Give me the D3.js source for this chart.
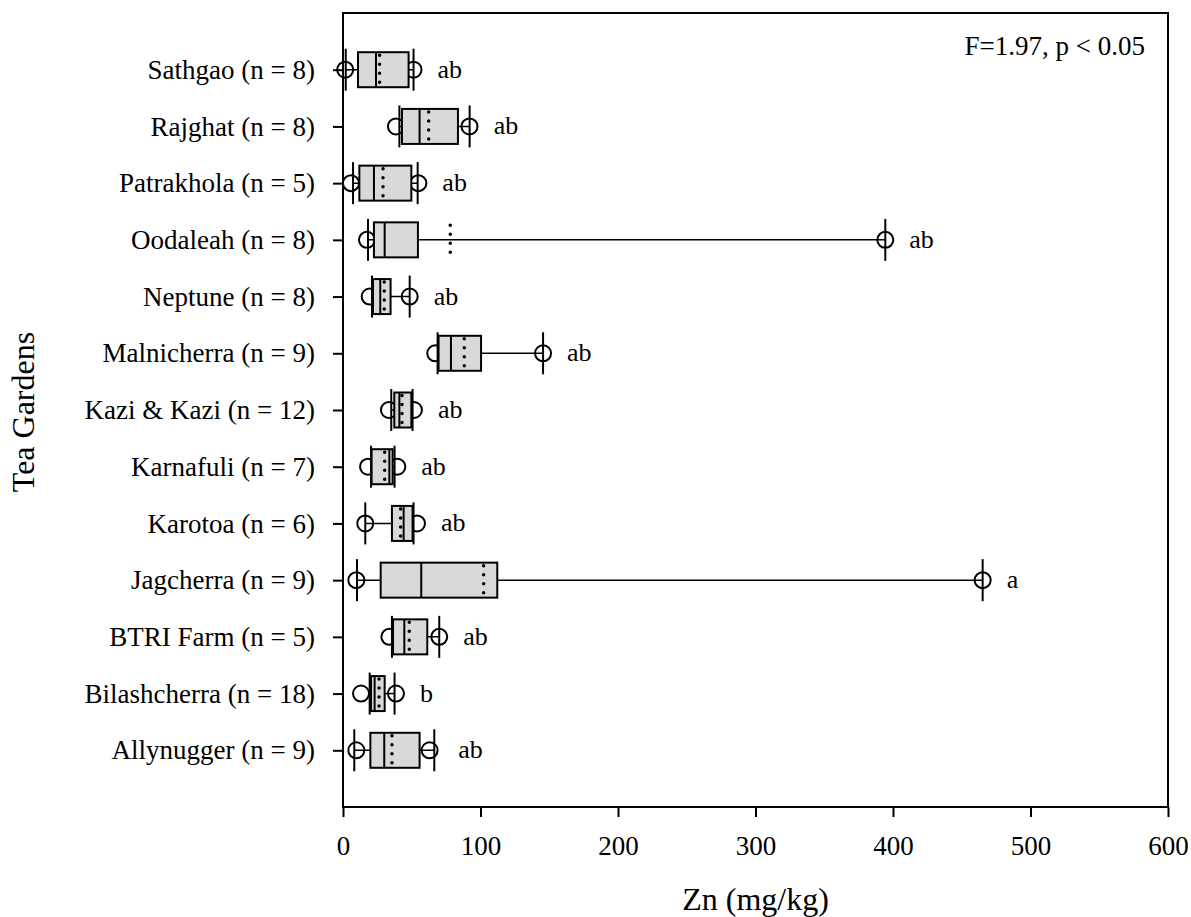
<!DOCTYPE html>
<html>
<head>
<meta charset="utf-8">
<script src="https://cdn.jsdelivr.net/npm/d3@7"></script>
<style>
  body { margin: 0; background: #fff; }
  svg text { font-family: "Liberation Serif", "Times New Roman", serif; fill: #000; }
</style>
</head>
<body>
<div class="svg"></div>
<script>
// data (Zn, mg/kg)
const gardens = ["Sathgao (n = 8)", "Rajghat (n = 8)", "Patrakhola (n = 5)", "Oodaleah (n = 8)",
  "Neptune (n = 8)", "Malnicherra (n = 9)", "Kazi & Kazi (n = 12)", "Karnafuli (n = 7)",
  "Karotoa (n = 6)", "Jagcherra (n = 9)", "BTRI Farm (n = 5)", "Bilashcherra (n = 18)", "Allynugger (n = 9)"];
const whiskLo = [2, 41, 7.3, 18.2, 21.1, 68.8, 35.1, 20.4, 16.2, 10.2, 35.6, 19.4, 8.2];
const q1      = [10.9, 42.9, 11.9, 22.5, 21.8, 69.5, 37.3, 20.8, 35.6, 27.4, 36.4, 20.4, 19.9];
const median  = [24, 55.7, 22.5, 30.3, 27.1, 78.5, 41, 33.7, 44.1, 56.9, 44.6, 23, 30];
const mean    = [26.6, 62.3, 29.1, 78, 30, 88.2, 42.9, 30.3, 41.9, 102.3, 48.2, 26.2, 35.6];
const q3      = [47.7, 83.6, 49.7, 54.5, 34.6, 100.4, 49.7, 36.1, 50.6, 112.2, 61.3, 30.3, 55.7];
const whiskHi = [51.3, 92.1, 54.3, 394.4, 48.5, 145.5, 50.6, 37.5, 51.3, 465.2, 70, 37.5, 66.4];
const outLo   = [1.6, 38.5, 5.8, 17.4, 19.4, 67.1, 33.4, 18.2, 16.2, 9.7, 33.7, 13.1, 9.7];
const outHi   = [51.3, 92, 54.8, 394.4, 48.5, 145.5, 51.6, 39.5, 53.8, 465.2, 70, 38.5, 63];
const letters = ["ab", "ab", "ab", "ab", "ab", "ab", "ab", "ab", "ab", "a", "ab", "b", "ab"];
const xTicks = [0, 100, 200, 300, 400, 500, 600];

const w = 1191, h = 917;
const plotL = 343, plotR = 1168, plotT = 13, plotB = 807;

let svg = d3.select(".svg").append("svg").attr("width", w).attr("height", h);

let xScale = d3.scaleLinear().domain([0, 600]).range([plotL, plotR]);
let yScale = d3.scalePoint().domain(gardens).range([plotT, plotB]).padding(1);

let rows = gardens.map((g, i) => ({
  g: g, lo: whiskLo[i], q1: q1[i], med: median[i], mean: mean[i], q3: q3[i],
  hi: whiskHi[i], oLo: outLo[i], oHi: outHi[i], letter: letters[i]
}));

const boxH = 35, capH = 42, r = 8;

// axes
let xAxis = d3.axisBottom(xScale).tickValues(xTicks).tickSize(10).tickPadding(19).tickFormat(d3.format("d"));
let gx = svg.append("g").attr("transform", "translate(0," + plotB + ")").call(xAxis);
gx.select(".domain").remove();
gx.selectAll("line").attr("stroke", "#000").attr("stroke-width", 2);
gx.selectAll("text").attr("font-size", 27);

let yAxis = d3.axisLeft(yScale).tickSize(10).tickPadding(18);
let gy = svg.append("g").attr("transform", "translate(" + plotL + ",0)").call(yAxis);
gy.select(".domain").remove();
gy.selectAll("line").attr("stroke", "#000").attr("stroke-width", 2);
gy.selectAll("text").attr("font-size", 27);

// boxes
let g = svg.selectAll(".row").data(rows).enter().append("g").attr("class", "row");

g.append("line")
  .attr("x1", d => xScale(d.lo)).attr("x2", d => xScale(d.hi))
  .attr("y1", d => yScale(d.g)).attr("y2", d => yScale(d.g))
  .attr("stroke", "#000").attr("stroke-width", 1.5);

g.each(function(d) {
  let s = d3.select(this);
  [d.lo, d.hi].forEach(v => {
    s.append("line")
      .attr("x1", xScale(v)).attr("x2", xScale(v))
      .attr("y1", yScale(d.g) - capH / 2).attr("y2", yScale(d.g) + capH / 2)
      .attr("stroke", "#000").attr("stroke-width", 2);
  });
  [d.oLo, d.oHi].forEach(v => {
    s.append("circle")
      .attr("cx", xScale(v)).attr("cy", yScale(d.g)).attr("r", r)
      .attr("fill", "none").attr("stroke", "#000").attr("stroke-width", 2);
  });
});

g.append("rect")
  .attr("x", d => xScale(d.q1)).attr("width", d => xScale(d.q3) - xScale(d.q1))
  .attr("y", d => yScale(d.g) - boxH / 2).attr("height", boxH)
  .attr("fill", "#d9d9d9").attr("stroke", "#000").attr("stroke-width", 2);

g.append("line")
  .attr("x1", d => xScale(d.med)).attr("x2", d => xScale(d.med))
  .attr("y1", d => yScale(d.g) - boxH / 2).attr("y2", d => yScale(d.g) + boxH / 2)
  .attr("stroke", "#000").attr("stroke-width", 2);

g.append("line")
  .attr("x1", d => xScale(d.mean)).attr("x2", d => xScale(d.mean))
  .attr("y1", d => yScale(d.g) - boxH / 2 + 3).attr("y2", d => yScale(d.g) + boxH / 2)
  .attr("stroke", "#000").attr("stroke-width", 3.5)
  .attr("stroke-linecap", "round").attr("stroke-dasharray", "0,9");

g.append("text")
  .attr("x", d => Math.max(xScale(d.hi), xScale(d.oHi)) + 24)
  .attr("y", d => yScale(d.g) + 8)
  .attr("font-size", 26)
  .text(d => d.letter);

// frame
svg.append("rect")
  .attr("x", plotL).attr("y", plotT).attr("width", plotR - plotL).attr("height", plotB - plotT)
  .attr("fill", "none").attr("stroke", "#000").attr("stroke-width", 2);

svg.append("text").text("F=1.97, p < 0.05")
  .attr("x", 1145).attr("y", 55).attr("text-anchor", "end").attr("font-size", 27);

svg.append("text").text("Zn (mg/kg)")
  .attr("x", (plotL + plotR) / 2).attr("y", 910).attr("text-anchor", "middle").attr("font-size", 32);

svg.append("text").text("Tea Gardens")
  .attr("transform", "translate(34," + ((plotT + plotB) / 2 + 2) + ") rotate(-90)")
  .attr("text-anchor", "middle").attr("font-size", 32);
</script>
</body>
</html>
